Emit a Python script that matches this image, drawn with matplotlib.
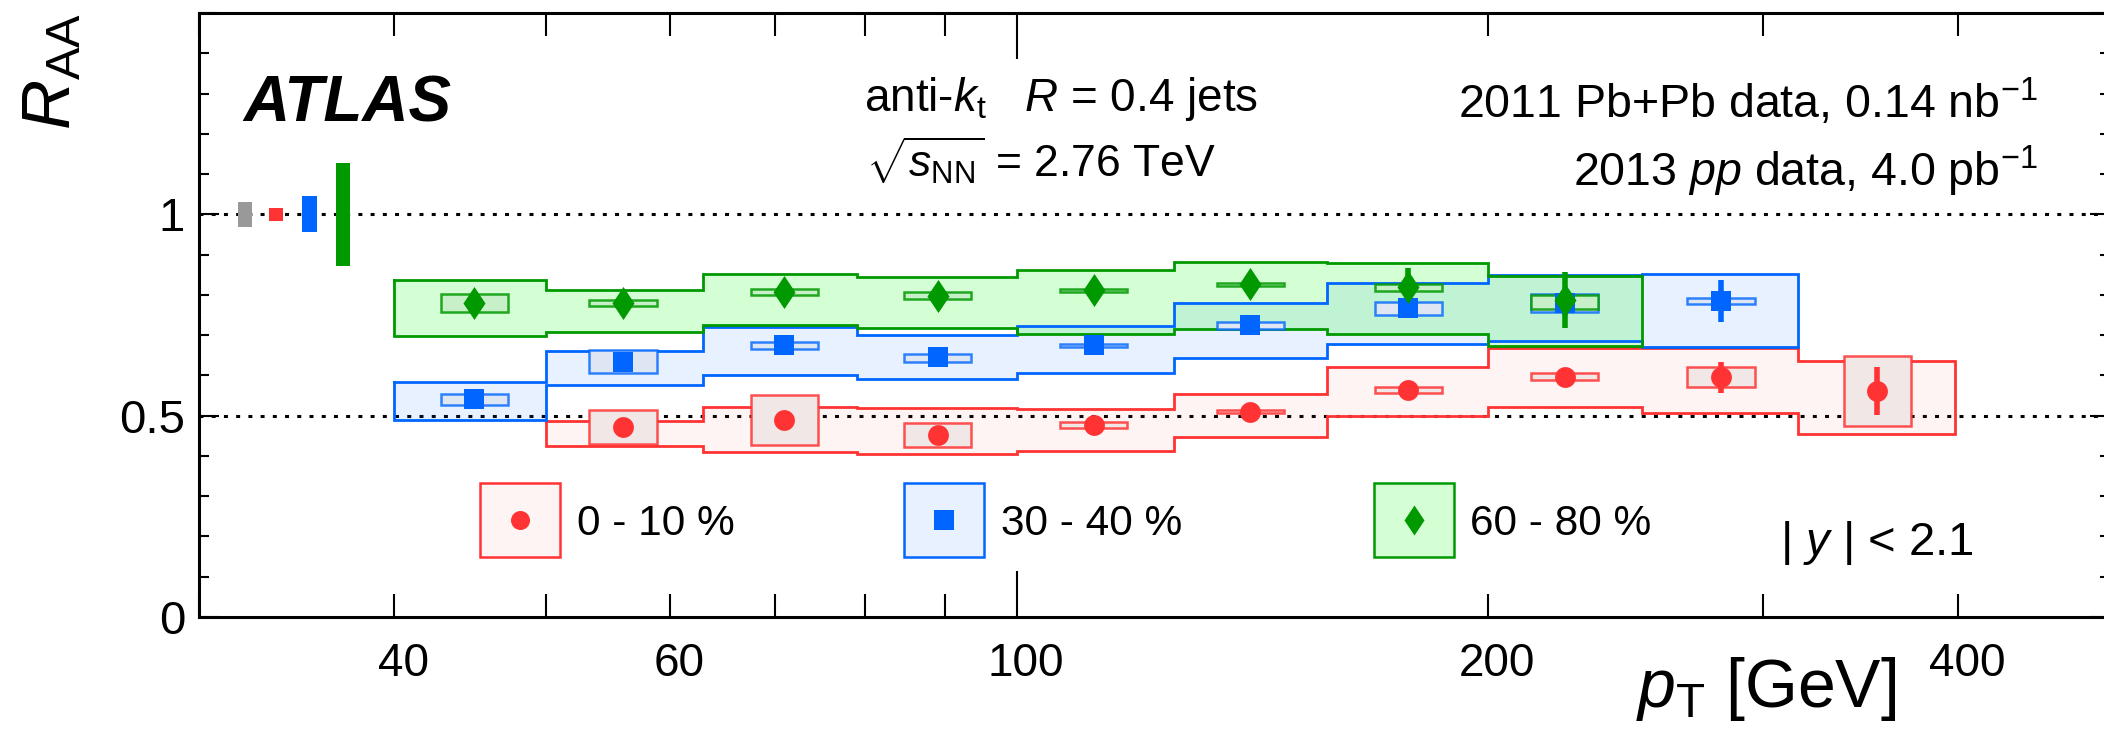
import matplotlib
matplotlib.use("Agg")
import matplotlib.pyplot as plt
import matplotlib.transforms as mtransforms
from matplotlib.patches import Rectangle
from matplotlib.path import Path
from matplotlib.ticker import FixedLocator, FuncFormatter

plt.rcParams["font.family"] = "Liberation Sans"
plt.rcParams["mathtext.fontset"] = "custom"
plt.rcParams["mathtext.rm"] = "Liberation Sans"
plt.rcParams["mathtext.it"] = "Liberation Sans:italic"
plt.rcParams["mathtext.bf"] = "Liberation Sans:bold"

# pT binning [GeV]
edges = [40, 50, 63, 79, 100, 126, 158, 200, 251, 316, 398]
pt = [45, 56, 71, 89, 112, 141, 178, 224, 282, 355]

# 0 - 10 %
red_edges = edges[1:]
red_x = pt[1:]
red_y = [0.471, 0.490, 0.453, 0.478, 0.510, 0.564, 0.597, 0.595, 0.562]
red_stat = [0.010, 0.010, 0.010, 0.008, 0.008, 0.010, 0.012, 0.038, 0.060]
red_box_hi = [0.515, 0.551, 0.483, 0.485, 0.514, 0.570, 0.606, 0.620, 0.648]
red_box_lo = [0.429, 0.428, 0.421, 0.470, 0.506, 0.556, 0.588, 0.571, 0.475]
red_band_hi = [0.487, 0.522, 0.520, 0.516, 0.555, 0.621, 0.667, 0.669, 0.635]
red_band_lo = [0.424, 0.410, 0.405, 0.413, 0.446, 0.498, 0.521, 0.506, 0.454]

# 30 - 40 %
blue_edges = edges[:10]
blue_x = pt[:9]
blue_y = [0.542, 0.634, 0.675, 0.646, 0.675, 0.724, 0.767, 0.780, 0.785]
blue_stat = [0.008, 0.010, 0.010, 0.010, 0.010, 0.012, 0.020, 0.030, 0.053]
blue_box_hi = [0.555, 0.663, 0.683, 0.654, 0.679, 0.733, 0.782, 0.803, 0.792]
blue_box_lo = [0.527, 0.607, 0.665, 0.634, 0.671, 0.715, 0.750, 0.758, 0.777]
blue_band_hi = [0.583, 0.661, 0.719, 0.700, 0.723, 0.780, 0.830, 0.849, 0.852]
blue_band_lo = [0.490, 0.575, 0.601, 0.592, 0.606, 0.644, 0.678, 0.686, 0.670]

# 60 - 80 %
green_edges = edges[:9]
green_x = pt[:8]
green_y = [0.780, 0.780, 0.808, 0.797, 0.811, 0.826, 0.819, 0.787]
green_stat = [0.010, 0.010, 0.010, 0.010, 0.012, 0.015, 0.047, 0.070]
green_box_hi = [0.803, 0.787, 0.815, 0.806, 0.815, 0.830, 0.826, 0.800]
green_box_lo = [0.757, 0.772, 0.799, 0.789, 0.807, 0.822, 0.810, 0.765]
green_band_hi = [0.837, 0.813, 0.851, 0.844, 0.862, 0.881, 0.878, 0.847]
green_band_lo = [0.698, 0.707, 0.725, 0.717, 0.703, 0.715, 0.704, 0.672]

# normalisation uncertainties drawn at R_AA = 1 (lumi, TAA per centrality)
norm_x = [32.1, 33.6, 35.3, 37.1]
norm_unc = [0.031, 0.016, 0.045, 0.128]
norm_colors = ["#999999", "#ff3333", "#0066ff", "#009900"]

labels = ["0 - 10 %", "30 - 40 %", "60 - 80 %"]

diamond = Path([(0, 1), (0.667, 0), (0, -1), (-0.667, 0), (0, 1)], closed=True)

series = [
    dict(edges=red_edges, x=red_x, y=red_y, stat=red_stat, bhi=red_box_hi, blo=red_box_lo,
         hi=red_band_hi, lo=red_band_lo, color="#ff3333", fill=(1, 0.2, 0.2, 0.05),
         bfill="#f2e7e7", bedge=(1, 0.2, 0.2, 0.85), marker="o", ms=15, lms=13.7),
    dict(edges=blue_edges, x=blue_x, y=blue_y, stat=blue_stat, bhi=blue_box_hi, blo=blue_box_lo,
         hi=blue_band_hi, lo=blue_band_lo, color="#0066ff", fill=(0, 0.4, 1, 0.09),
         bfill="#dde6f2", bedge=(0, 0.4, 1, 0.8), marker="s", ms=14.8, lms=13.7),
    dict(edges=green_edges, x=green_x, y=green_y, stat=green_stat, bhi=green_box_hi, blo=green_box_lo,
         hi=green_band_hi, lo=green_band_lo, color="#009900", fill=(0, 1, 0, 0.17),
         bfill="#c8f0c8", bedge=(0, 0.6, 0, 0.85), marker=diamond, ms=23.8, lms=21.6),
]

fig = plt.figure(figsize=(21.04, 7.36), dpi=100)
ax = fig.add_axes([199 / 2104, 119 / 736, 1911 / 2104, 604 / 736])
ax.set_xscale("log")
ax.set_xlim(30, 500)
ax.set_ylim(0, 1.5)

dots = (0, (1.3, 2.7))
ax.axhline(1.0, color="k", lw=2.2, ls=dots, zorder=1)
ax.axhline(0.5, color="k", lw=2.2, ls=dots, zorder=1)

# systematic bands: filled steps with the union outline
for s in series:
    xs, ys = [], []
    for i in range(len(s["hi"])):
        xs += [s["edges"][i], s["edges"][i + 1]]
        ys += [s["hi"][i], s["hi"][i]]
    for i in reversed(range(len(s["lo"]))):
        xs += [s["edges"][i + 1], s["edges"][i]]
        ys += [s["lo"][i], s["lo"][i]]
    ax.fill(xs, ys, facecolor=s["fill"], edgecolor="none", zorder=2)
    ax.plot(xs + xs[:1], ys + ys[:1], color=s["color"], lw=2, zorder=3,
            solid_joinstyle="miter")

# uncorrelated systematics boxes
hw = 10 ** 0.0215
for s in series:
    for x, lo, hi in zip(s["x"], s["blo"], s["bhi"]):
        ax.add_patch(Rectangle((x / hw, lo), x * hw - x / hw, hi - lo,
                               facecolor=s["bfill"], edgecolor=s["bedge"], lw=1.8, zorder=4))

# points with statistical errors
for s in series:
    ax.errorbar(s["x"], s["y"], yerr=s["stat"], fmt="none", ecolor=s["color"],
                elinewidth=4, capsize=0, zorder=5)
    ax.plot(s["x"], s["y"], ls="none", marker=s["marker"], ms=s["ms"],
            color=s["color"], mec=s["color"], mew=0, zorder=6)

# normalisation boxes
nw = 10 ** 0.0045
for x, u, c in zip(norm_x, norm_unc, norm_colors):
    ax.bar(x / nw, 2 * u, width=x * nw - x / nw, bottom=1 - u, align="edge",
           color=c, lw=0, zorder=4)

# axes styling
for sp in ax.spines.values():
    sp.set_linewidth(2.2)
ax.xaxis.set_major_locator(FixedLocator([100]))
ax.xaxis.set_minor_locator(FixedLocator([30, 40, 50, 60, 70, 80, 90, 200, 300, 400, 500]))
ax.xaxis.set_major_formatter(FuncFormatter(lambda v, p: "%g" % v))
ax.xaxis.set_minor_formatter(FuncFormatter(
    lambda v, p: "%g" % v if v in (40, 60, 200, 400) else ""))
ax.yaxis.set_major_locator(FixedLocator([0, 0.5, 1, 1.5]))
ax.yaxis.set_minor_locator(FixedLocator([i / 10 for i in range(16)]))
ax.yaxis.set_major_formatter(FuncFormatter(lambda v, p: "" if v > 1.2 else "%g" % v))

ax.tick_params(axis="x", which="both", direction="in", top=True, bottom=True,
               labelsize=33, pad=18, width=1.5)
ax.tick_params(axis="x", which="major", length=33)
ax.tick_params(axis="x", which="minor", length=16.5)
ax.tick_params(axis="y", which="both", direction="in", left=True, right=True,
               labelsize=34, pad=10, width=1.5)
ax.tick_params(axis="y", which="major", length=14.4)
ax.tick_params(axis="y", which="minor", length=7.2)

shift = mtransforms.ScaledTranslation(9 / 100, 0, fig.dpi_scale_trans)
for lab in ax.get_xticklabels(which="both"):
    lab.set_transform(lab.get_transform() + shift)

# legend
leg_x = [0.147, 0.369, 0.615]
txt_x = [0.198, 0.4197, 0.665]
for s, lx, tx, lab in zip(series, leg_x, txt_x, labels):
    ax.add_patch(Rectangle((lx, 0.0993), 0.0419, 0.123, transform=ax.transAxes,
                           facecolor=s["fill"], edgecolor=s["color"], lw=1.8, zorder=7))
    ax.plot([lx + 0.02095], [0.161], transform=ax.transAxes, ls="none",
            marker=s["marker"], ms=s["lms"], color=s["color"], mew=0, zorder=8)
    ax.text(tx, 0.1358, lab, transform=ax.transAxes, fontsize=30.5, va="baseline")

# labels and annotations (figure pixel positions)
W, H = 2104, 736
fig.text(243 / W, 1 - 122 / H, "ATLAS", fontsize=46, fontweight="bold",
         fontstyle="italic", va="baseline")
fig.text(864 / W, 1 - 111 / H, r"anti-$k_{\mathrm{t}}$   $R$ = 0.4 jets", fontsize=33,
         va="baseline")
fig.text(866 / W, 1 - 177 / H, r"$\sqrt{s_{\mathrm{NN}}}$ = 2.76 TeV", fontsize=32,
         va="baseline")
fig.text(2038 / W, 1 - 118 / H, r"2011 Pb+Pb data, 0.14 nb$^{\mathrm{-1}}$", fontsize=33.5,
         ha="right", va="baseline")
fig.text(2038 / W, 1 - 186 / H, r"2013 $pp$ data, 4.0 pb$^{\mathrm{-1}}$", fontsize=33.5,
         ha="right", va="baseline")
fig.text(1780 / W, 1 - 555 / H, r"| $y$ | < 2.1", fontsize=34, va="baseline")
fig.text(1896 / W, 1 - 707 / H, r"$p_{\mathrm{T}}$ [GeV]", fontsize=49, ha="right",
         va="baseline")
fig.text(20 / W, 1 - 13 / H, r"$R_{\mathrm{AA}}$", fontsize=50, rotation=90,
         ha="left", va="top")

fig.savefig("out.png", dpi=100)
